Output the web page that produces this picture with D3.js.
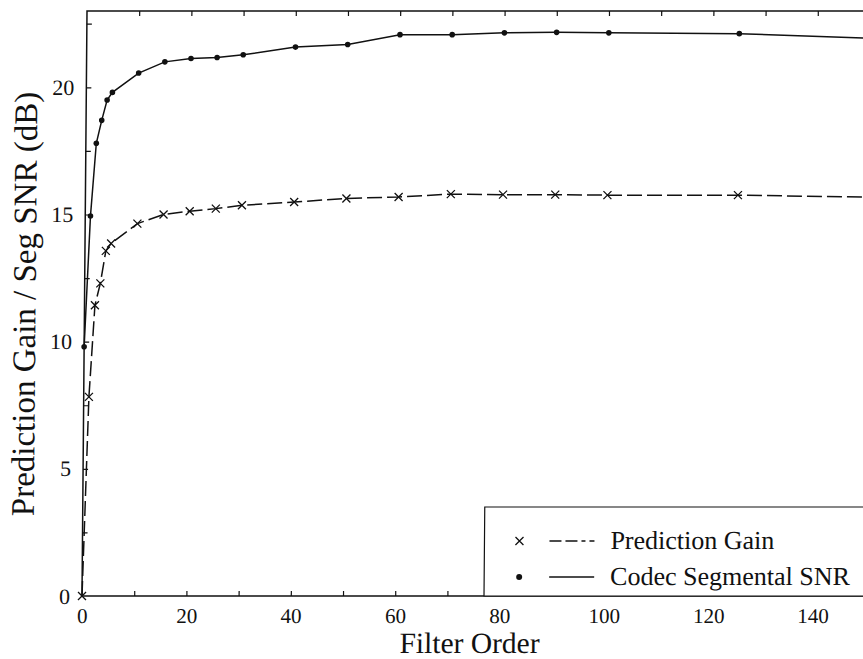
<!DOCTYPE html>
<html>
<head>
<meta charset="utf-8">
<script src="https://cdn.jsdelivr.net/npm/d3@7"></script>
<style>
  html, body { margin: 0; padding: 0; background: #fff; }
  svg { display: block; }
  text { font-family: "Liberation Serif", "Times New Roman", serif; fill: #111; }
</style>
</head>
<body>
<svg id="chart" width="863" height="659"></svg>
<script>
// ---- data ----
const filterOrders = [0, 1, 2, 3, 4, 5, 10, 15, 20, 25, 30, 40, 50, 60, 70, 80, 90, 100, 125, 150];
const predictionGain = [0, 7.83, 11.43, 12.29, 13.57, 13.86, 14.64, 15.0, 15.13, 15.23, 15.36, 15.49, 15.63, 15.69, 15.8, 15.78, 15.78, 15.76, 15.76, 15.68];
const codecSegSNR = [9.8, 14.94, 17.8, 18.7, 19.5, 19.8, 20.56, 21.0, 21.13, 21.17, 21.28, 21.58, 21.68, 22.07, 22.07, 22.14, 22.16, 22.14, 22.11, 21.93];
const xTickValues = [10, 20, 30, 40, 50, 60, 70, 80, 90, 100, 110, 120, 130, 140];
const xTickLabels = [0, 20, 40, 60, 80, 100, 120, 140];
const yTickValues = [2.5, 5, 7.5, 10, 12.5, 15, 17.5, 20, 22.5];
const yTickLabels = [0, 5, 10, 15, 20];
const seriesNames = ["Prediction Gain", "Codec Segmental SNR"];
const xTitle = "Filter Order";
const yTitle = "Prediction Gain / Seg SNR (dB)";

// ---- layout ----
const pLeft = 82, pBottom = 596, pTop = 11, pRight = 865;
const serif = '"Liberation Serif", "Times New Roman", serif';
const svg = d3.select("#chart");
svg.append("rect").attr("width", 863).attr("height", 659).attr("fill", "#fff");

const x = d3.scaleLinear().domain([0, 150]).range([pLeft, pRight]);
const y = d3.scaleLinear().domain([0, 23]).range([pBottom, pTop]);

// slight scan skew of the original figure
const g = svg.append("g")
  .attr("transform", `translate(0,${pBottom}) skewX(-0.49) translate(0,${-pBottom})`);

const ink = "#111";

// frame
g.append("rect")
  .attr("x", pLeft).attr("y", pTop)
  .attr("width", pRight + 40 - pLeft).attr("height", pBottom - pTop)
  .attr("fill", "none").attr("stroke", ink).attr("stroke-width", 1.5);

// axes (ticks inward)
const fmt = d => "";
const axes = [];
axes.push(g.append("g").attr("transform", `translate(0,${pBottom})`)
  .call(d3.axisBottom(x).tickValues(xTickValues).tickSizeInner(-5).tickSizeOuter(0).tickFormat(fmt)));
axes.push(g.append("g").attr("class", "xlab").attr("transform", `translate(0,${pBottom})`)
  .call(d3.axisBottom(x).tickValues(xTickLabels).tickSize(0).tickPadding(12).tickFormat(d3.format("d"))));
axes.push(g.append("g").attr("transform", `translate(0,${pTop})`)
  .call(d3.axisTop(x).tickValues(xTickValues).tickSizeInner(-5).tickSizeOuter(0).tickFormat(fmt)));
axes.push(g.append("g").attr("transform", `translate(${pLeft},0)`)
  .call(d3.axisLeft(y).tickValues(yTickValues).tickSizeInner(-5).tickSizeOuter(0).tickFormat(fmt)));
axes.push(g.append("g").attr("class", "ylab").attr("transform", `translate(${pLeft},0)`)
  .call(d3.axisLeft(y).tickValues(yTickLabels).tickSize(0).tickPadding(12).tickFormat(d3.format("d"))));
axes.forEach(a => a.attr("font-family", serif).attr("font-size", 22));

g.selectAll(".domain").remove();
g.selectAll(".tick line").attr("stroke", ink).attr("stroke-width", 1.2);
g.selectAll(".tick text").attr("font-size", 22).attr("fill", ink)
  .style("font-family", serif);
g.selectAll(".xlab .tick text").attr("font-size", 21);

// clip for data
svg.append("defs").append("clipPath").attr("id", "plotclip")
  .append("rect").attr("x", pLeft - 6).attr("y", pTop - 6).attr("width", 863).attr("height", pBottom - pTop + 12);

const data = filterOrders.map((o, i) => ({ o, pg: predictionGain[i], snr: codecSegSNR[i] }));
const plot = g.append("g").attr("clip-path", "url(#plotclip)");

const linePG = d3.line().x(d => x(d.o)).y(d => y(d.pg));
const lineSNR = d3.line().x(d => x(d.o)).y(d => y(d.snr));

plot.append("path").datum(data).attr("d", lineSNR)
  .attr("fill", "none").attr("stroke", ink).attr("stroke-width", 1.5);
plot.append("path").datum(data).attr("d", linePG)
  .attr("fill", "none").attr("stroke", ink).attr("stroke-width", 1.5)
  .attr("stroke-dasharray", "15,5");

plot.selectAll("circle.snr").data(data).enter().append("circle")
  .attr("class", "snr").attr("cx", d => x(d.o)).attr("cy", d => y(d.snr))
  .attr("r", 2.8).attr("fill", ink);

const cross = 4;
const crosses = plot.selectAll("g.pg").data(data).enter().append("g")
  .attr("class", "pg").attr("transform", d => `translate(${x(d.o)},${y(d.pg)})`);
crosses.append("path")
  .attr("d", `M${-cross},${-cross}L${cross},${cross}M${-cross},${cross}L${cross},${-cross}`)
  .attr("stroke", ink).attr("stroke-width", 1.3);

// legend
const lg = g.append("g");
lg.append("rect").attr("x", 484).attr("y", 507).attr("width", 420).attr("height", pBottom - 507)
  .attr("fill", "#fff").attr("stroke", ink).attr("stroke-width", 1.2);
const entries = [
  { name: seriesNames[0], yy: 541, dash: "12,4,12,4,4,4" },
  { name: seriesNames[1], yy: 577, dash: null }
];
entries.forEach((e, i) => {
  if (i === 0) {
    lg.append("path").attr("transform", `translate(519,${e.yy})`)
      .attr("d", `M-4,-4L4,4M-4,4L4,-4`).attr("stroke", ink).attr("stroke-width", 1.3);
  } else {
    lg.append("circle").attr("cx", 519).attr("cy", e.yy).attr("r", 3).attr("fill", ink);
  }
  const ln = lg.append("line").attr("x1", 549).attr("x2", 594).attr("y1", e.yy).attr("y2", e.yy)
    .attr("stroke", ink).attr("stroke-width", 1.3);
  if (e.dash) ln.attr("stroke-dasharray", e.dash);
  lg.append("text").attr("x", 610).attr("y", e.yy + 8).attr("font-size", 26)
    .style("font-family", serif).text(e.name);
});

// titles
g.append("text").attr("x", 470).attr("y", 653).attr("text-anchor", "middle")
  .attr("font-size", 29.5).style("font-family", serif).text(xTitle);
g.append("text").attr("transform", `translate(33,304) rotate(-90)`)
  .attr("text-anchor", "middle").attr("font-size", 33).style("font-family", serif).text(yTitle);
</script>
</body>
</html>
